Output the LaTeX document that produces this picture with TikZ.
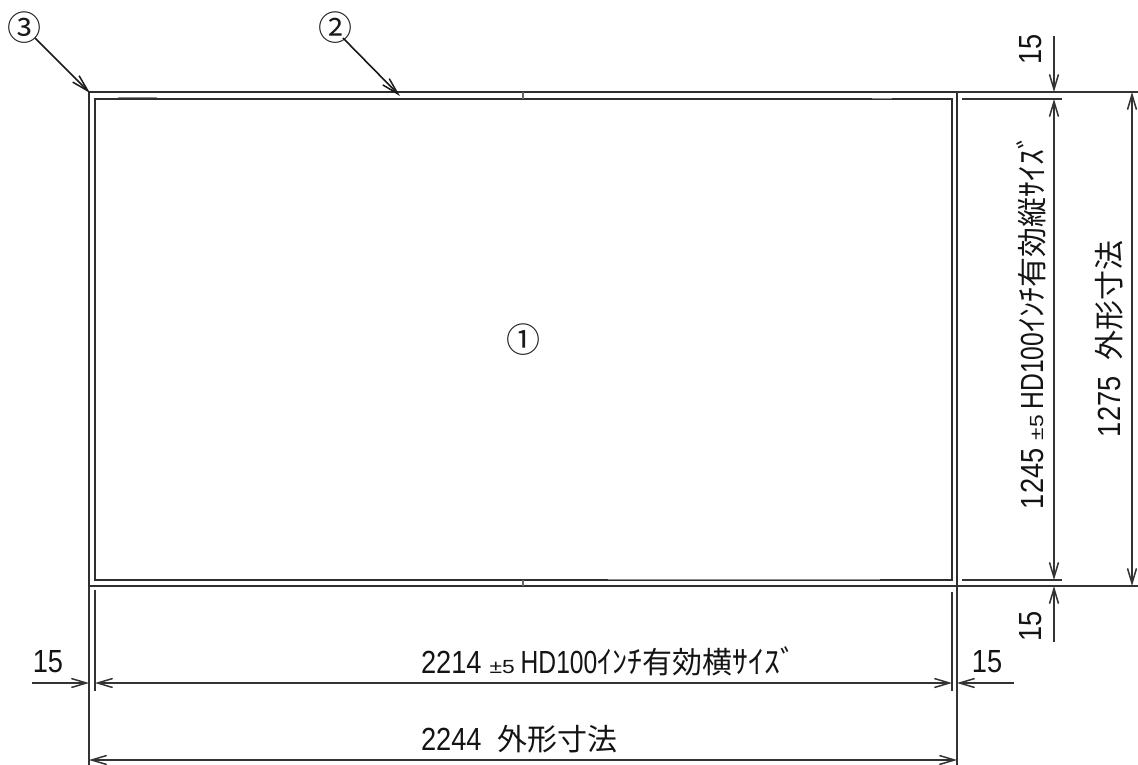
\documentclass[tikz,border=0pt]{standalone}
\usepackage{fontspec}
\usepackage{graphicx}
\usetikzlibrary{arrows.meta}
\setmainfont{Liberation Sans}
\newfontfamily\jpf{Noto Sans CJK JP}
\newcommand{\dg}[1]{\scalebox{0.85}[1]{\fontsize{32}{32}\selectfont #1}}
\newcommand{\hd}[1]{\scalebox{0.77}[1]{\fontsize{32}{32}\selectfont #1}}
\newcommand{\jk}[1]{{\fontsize{30}{31}\selectfont\jpf #1}}
\newcommand{\hk}[1]{\scalebox{1}[1.05]{\fontsize{30}{31}\selectfont\jpf #1}}
\newcommand{\hs}[1]{\scalebox{1.06}[1.05]{\fontsize{30}{31}\selectfont\jpf #1}}
\newcommand{\tol}{\scalebox{1.2}[1]{\fontsize{19}{19}\selectfont ±5}}
\tikzset{
  part/.style={line width=1.9pt,draw=black!82},
  ext/.style={line width=1.9pt,draw=black!80},
  dimline/.style={line width=1.9pt,draw=black!80},
  dimarrow/.style={dimline,arrows={Straight Barb[length=15pt,width=9pt,line width=1.5pt]-Straight Barb[length=15pt,width=9pt,line width=1.5pt]}},
  dimend/.style={dimline,arrows={-Straight Barb[length=15pt,width=9pt,line width=1.5pt]}},
  leader/.style={line width=1.6pt,draw=black!90,arrows={-Straight Barb[length=17pt,width=9pt,line width=1.5pt]}},
  lab/.style={inner sep=0pt,outer sep=0pt,text=black!92},
  tick/.style={line width=1.4pt,draw=black!60},
  thick seg/.style={line width=1pt,draw=black!45},
  circnum/.style={inner sep=0pt,outer sep=0pt,font={\fontsize{34}{34}\selectfont\jpf},text=black!90}
}
\begin{document}
\begin{tikzpicture}[x=1pt,y=-1pt]
\useasboundingbox (0,0) rectangle (1138,765);
% frame corners
\coordinate (OTL) at (89,92);
\coordinate (OTR) at (957,92);
\coordinate (OBL) at (89,586);
\coordinate (OBR) at (957,586);
\coordinate (ITL) at (95,99);
\coordinate (ITR) at (952,99);
\coordinate (IBL) at (95,580);
\coordinate (IBR) at (952,580);
\draw[part] (OTL) rectangle (OBR);
\draw[part] (ITL) rectangle (IBR);
% bezel joints
\draw[tick] (523,92) -- (523,99);
\draw[tick] (523,580) -- (523,586);
\draw[thick seg] (118,98) -- (157,98);
\draw[thick seg] (608,579.5) -- (880,579.5);
\draw[thick seg] (872,99) -- (892,99);
% extension lines
\coordinate (ELb) at (89,765);
\coordinate (IL1) at (95,590);
\coordinate (IL2) at (95,691);
\coordinate (IR1) at (952,592);
\coordinate (IR2) at (952,691);
\coordinate (ERb) at (957,765);
\coordinate (TO) at (1138,92);
\coordinate (BO) at (1138,586);
\coordinate (TI1) at (962,99);
\coordinate (TI2) at (1062,99);
\coordinate (BI1) at (962,580);
\coordinate (BI2) at (1062,580);
\draw[ext] (OBL) -- (ELb);
\draw[ext] (OBR) -- (ERb);
\draw[ext] (IL1) -- (IL2);
\draw[ext] (IR1) -- (IR2);
\draw[ext] (OTR) -- (TO);
\draw[ext] (OBR) -- (BO);
\draw[ext] (TI1) -- (TI2);
\draw[ext] (BI1) -- (BI2);
% vertical dims
\coordinate (V1) at (1054,36);
\coordinate (V2) at (1054,92);
\coordinate (V3) at (1054,99);
\coordinate (V4) at (1054,580);
\coordinate (V5) at (1054,586);
\coordinate (V6) at (1054,642);
\coordinate (W1) at (1132,92);
\coordinate (W2) at (1132,586);
\draw[dimend] (V1) -- (V2);
\draw[dimarrow] (V3) -- (V4);
\draw[dimend] (V6) -- (V5);
\draw[dimarrow] (W1) -- (W2);
% horizontal dims
\coordinate (H1) at (32,683);
\coordinate (H2) at (89,683);
\coordinate (H3) at (95,683);
\coordinate (H4) at (952,683);
\coordinate (H5) at (957,683);
\coordinate (H6) at (1014,683);
\coordinate (J1) at (89,760);
\coordinate (J2) at (957,760);
\draw[dimend] (H1) -- (H2);
\draw[dimarrow] (H3) -- (H4);
\draw[dimend] (H6) -- (H5);
\draw[dimarrow] (J1) -- (J2);
% labels
\node[lab] (l15a) at (48,662) {\dg{15}};
\node[lab] (l15b) at (987,662) {\dg{15}};
\node[lab,rotate=90] (l15c) at (1031,49) {\dg{15}};
\node[lab,rotate=90] (l15d) at (1031,626) {\dg{15}};
\node[lab,anchor=base west] (w1) at (421,673) {\dg{2214}\hspace{8pt}\tol\hspace{6pt}\hd{HD100}\hk{ｲﾝﾁ}\jk{有効横}\hs{ｻｲｽﾞ}};
\node[lab,anchor=base west] (w2) at (421,750) {\dg{2244}\hspace{16pt}\jk{外形寸法}};
\node[lab,anchor=base west,rotate=90] (h1) at (1043,509) {\dg{1245}\hspace{8pt}\tol\hspace{6pt}\hd{HD100}\hk{ｲﾝﾁ}\jk{有効縦}\hs{ｻｲｽﾞ}};
\node[lab,anchor=base west,rotate=90] (h2) at (1120,437) {\dg{1275}\hspace{16pt}\jk{外形寸法}};
% balloons
\node[circnum] (p1) at (523,340) {①};
\node[circnum] (p2) at (335,28) {②};
\node[circnum] (p3) at (24,28) {③};
\coordinate (t2) at (400,96);
\coordinate (t3) at (90,93);
\draw[leader] (343,38) -- (t2);
\draw[leader] (35,38) -- (t3);
\end{tikzpicture}
\end{document}
